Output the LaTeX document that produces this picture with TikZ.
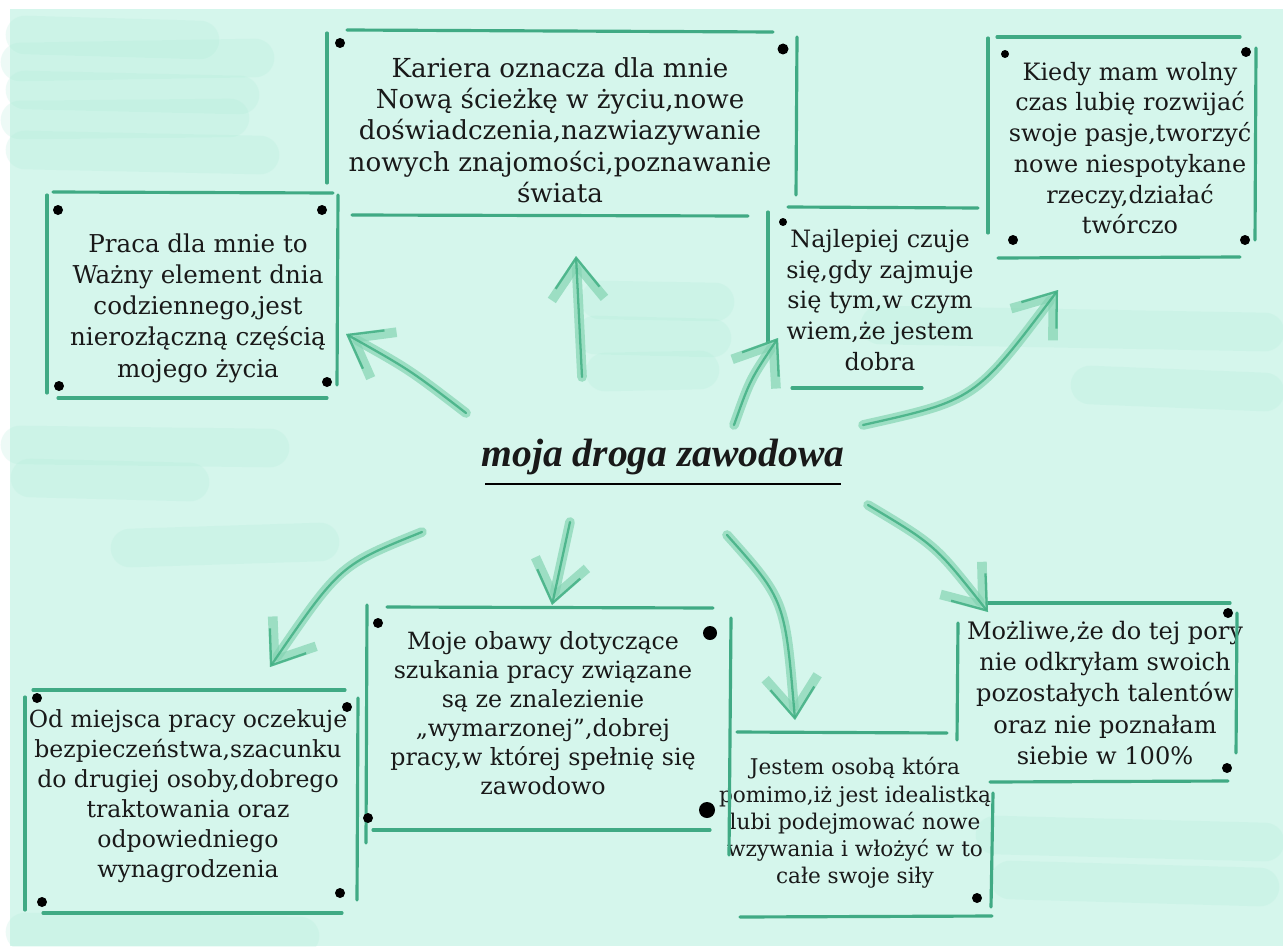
\documentclass[tikz,border=0pt]{standalone}
\usepackage{fontspec}
\newfontfamily\tw{DejaVu Serif}
\newfontfamily\ttl{Liberation Serif}
\usetikzlibrary{arrows.meta}
\definecolor{mint}{RGB}{213,246,236}
\definecolor{wash}{RGB}{176,236,217}
\definecolor{frame}{RGB}{64,170,132}
\definecolor{brushlight}{RGB}{132,212,178}
\definecolor{brushdark}{RGB}{66,176,132}
\tikzset{
  txt/.style={anchor=center, align=center, inner sep=0pt, text=black!90},
  edge/.style={draw=frame, line width=1.8pt, line cap=round},
  wash/.style={draw=wash, line width=22pt, line cap=round, draw opacity=.22},
  brush/.style={draw=brushlight, draw opacity=.7, line width=5.5pt, line cap=round,
    -{Straight Barb[length=20pt,width=30pt]},
    postaction={draw=brushdark, draw opacity=.85, line width=1.3pt,
      -{Straight Barb[length=17pt,width=25pt]}}},
}
\begin{document}
\begin{tikzpicture}[x=0.02cm, y=-0.02cm]
\useasboundingbox (0,0) rectangle (1283,946);
\fill[white] (0,0) rectangle (1283,946);
\fill[mint] (10,9) rectangle (1283,946);

\path[wash] (25,35) -- (200,40);
\path[wash] (20,62) -- (255,58);
\path[wash] (25,90) -- (240,95);
\path[wash] (20,120) -- (230,118);
\path[wash] (25,150) -- (260,155);
\path[wash] (600,300) -- (715,302);
\path[wash] (595,335) -- (712,338);
\path[wash] (605,372) -- (700,370);
\path[wash] (20,445) -- (270,448);
\path[wash] (30,478) -- (190,482);
\path[wash] (130,548) -- (320,542);
\path[wash] (880,325) -- (1265,332);
\path[wash] (1090,385) -- (1265,392);
\path[wash] (995,835) -- (1265,842);
\path[wash] (1010,880) -- (1260,887);
\path[wash] (25,932) -- (300,936);

\node[txt, font=\tw\fontsize{14.9}{17.8}\selectfont] (k) at (560,130)
  {Kariera oznacza dla mnie\\Nową ścieżkę w życiu,nowe\\doświadczenia,nazwiazywanie\\nowych znajomości,poznawanie\\świata};
\path[edge] (347,30) -- (773,32);
\path[edge] (327,33) -- (327,183);
\path[edge] (797,37) -- (796,195);
\path[edge] (352,215) -- (748,216);
\fill (340,43) circle (5);
\fill (783,49) circle (5.5);

\node[txt, font=\tw\fontsize{14}{17.8}\selectfont] (p) at (198,308)
  {Praca dla mnie to\\Ważny element dnia\\codziennego,jest\\nierozłączną częścią\\mojego życia};
\path[edge] (53,192) -- (333,193);
\path[edge] (47,195) -- (47,393);
\path[edge] (338,195) -- (337,385);
\path[edge] (58,398) -- (327,398);
\fill (58,210) circle (5);
\fill (322,210) circle (5);
\fill (59,386) circle (5);
\fill (327,382) circle (5);

\node[txt, font=\tw\fontsize{13.6}{17.5}\selectfont] (n) at (880,300)
  {Najlepiej czuje\\się,gdy zajmuje\\się tym,w czym\\wiem,że jestem\\dobra};
\path[edge] (788,207) -- (978,208);
\path[edge] (768,212) -- (768,342);
\path[edge] (792,388) -- (922,388);
\fill (783,222) circle (4);

\node[txt, font=\tw\fontsize{13.6}{17.5}\selectfont] (w) at (1130,148)
  {Kiedy mam wolny\\czas lubię rozwijać\\swoje pasje,tworzyć\\nowe niespotykane\\rzeczy,działać\\twórczo};
\path[edge] (997,37) -- (1240,37);
\path[edge] (988,38) -- (988,233);
\path[edge] (1256,48) -- (1255,240);
\path[edge] (998,258) -- (1240,257);
\fill (1005,54) circle (4);
\fill (1246,52) circle (5);
\fill (1013,240) circle (5);
\fill (1245,240) circle (5);

\node[txt, font=\tw\fontsize{13.7}{17.8}\selectfont] (m) at (1105,693)
  {Możliwe,że do tej pory\\nie odkryłam swoich\\pozostałych talentów\\oraz nie poznałam\\siebie w 100\%};
\path[edge] (987,603) -- (1230,603);
\path[edge] (958,623) -- (957,740);
\path[edge] (1237,613) -- (1236,753);
\path[edge] (990,782) -- (1228,781);
\fill (1228,613) circle (5);
\fill (1227,768) circle (5);

\node[txt, font=\tw\fontsize{12.3}{15.5}\selectfont] (j) at (855,823)
  {Jestem osobą która\\pomimo,iż jest idealistką\\lubi podejmować nowe\\wzywania i włożyć w to\\całe swoje siły};
\path[edge] (737,732) -- (947,733);
\path[edge] (993,793) -- (991,907);
\path[edge] (740,917) -- (992,916);
\fill (977,898) circle (5);

\node[txt, font=\tw\fontsize{13.5}{16.5}\selectfont] (o) at (543,713)
  {Moje obawy dotyczące\\szukania pracy związane\\są ze znalezienie\\„wymarzonej”,dobrej\\pracy,w której spełnię się\\zawodowo};
\path[edge] (387,607) -- (713,608);
\path[edge] (367,605) -- (366,843);
\path[edge] (731,618) -- (729,855);
\path[edge] (373,830) -- (710,830);
\fill (378,623) circle (5);
\fill (710,633) circle (7);
\fill (368,818) circle (5);
\fill (707,810) circle (8);

\node[txt, font=\tw\fontsize{13.4}{17}\selectfont] (d) at (188,796)
  {Od miejsca pracy oczekuje\\bezpieczeństwa,szacunku\\do drugiej osoby,dobrego\\traktowania oraz\\odpowiedniego\\wynagrodzenia};
\path[edge] (33,690) -- (345,690);
\path[edge] (25,697) -- (25,910);
\path[edge] (358,698) -- (357,900);
\path[edge] (43,913) -- (342,913);
\fill (37,698) circle (5);
\fill (347,707) circle (5);
\fill (42,902) circle (5);
\fill (340,893) circle (5);

\node[txt, font=\ttl\bfseries\itshape\fontsize{22.5}{24}\selectfont] (t) at (663,457) {moja droga zawodowa};
\path[draw, line width=1.5pt] (485,484) -- (841,484);

\coordinate (s1) at (466,413); \coordinate (e1) at (346,334);
\coordinate (s2) at (582,377); \coordinate (e2) at (576,256);
\coordinate (s3) at (734,425); \coordinate (e3) at (778,338);
\coordinate (s4) at (863,425); \coordinate (e4) at (1058,290);
\coordinate (s5) at (422,532); \coordinate (e5) at (270,667);
\coordinate (s6) at (570,522); \coordinate (e6) at (552,605);
\coordinate (s7) at (727,535); \coordinate (e7) at (795,720);
\coordinate (s8) at (868,505); \coordinate (e8) at (988,612);
\path[brush] (s1) .. controls (410,370) .. (e1);
\path[brush] (s2) -- (e2);
\path[brush] (s3) .. controls (750,380) .. (e3);
\path[brush] (s4) .. controls (975,400) .. (e4);
\path[brush] (s5) .. controls (340,565) .. (e5);
\path[brush] (s6) -- (e6);
\path[brush] (s7) .. controls (785,600) .. (e7);
\path[brush] (s8) .. controls (935,545) .. (e8);
\end{tikzpicture}
\end{document}
